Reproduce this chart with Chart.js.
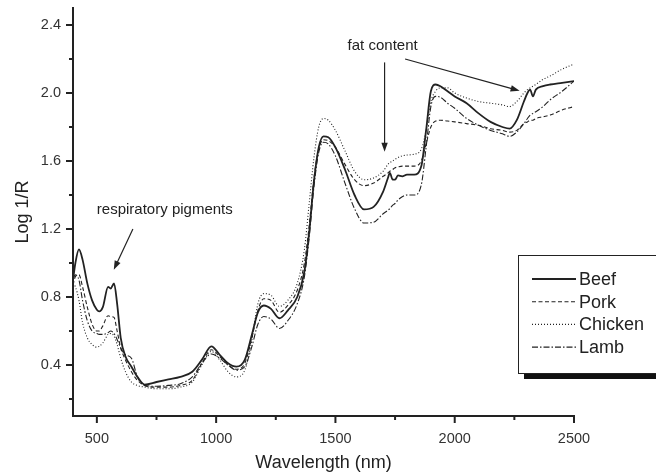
<!DOCTYPE html>
<html>
<head>
<meta charset="utf-8">
<script src="https://cdn.jsdelivr.net/npm/chart.js@4.4.0/dist/chart.umd.min.js"></script>
<style>
  html, body { margin: 0; padding: 0; background: #fff; }
  #wrap { width: 656px; height: 476px; }
</style>
</head>
<body>
<div id="wrap"><canvas id="spectra"></canvas></div>
<script>
// NIR spectra of meat samples, log(1/R) against wavelength
const wavelengths = [400, 410, 425, 440, 460, 480, 500, 510, 525, 547,
  558, 572, 585, 600, 620, 645, 670, 700, 750, 800,
  850, 900, 940, 980, 1015, 1050, 1085, 1120, 1150, 1175,
  1200, 1230, 1265, 1300, 1340, 1370, 1390, 1410, 1430, 1450,
  1470, 1500, 1540, 1580, 1620, 1660, 1700, 1720, 1728, 1740,
  1750, 1762, 1780, 1800, 1830, 1860, 1880, 1900, 1920, 1940,
  1970, 2000, 2050, 2100, 2150, 2200, 2230, 2260, 2290, 2305,
  2316, 2328, 2340, 2370, 2400, 2450, 2500];

const beef = [0.90, 1.00, 1.08, 1.02, 0.88, 0.78, 0.725, 0.715, 0.74, 0.86,
  0.85, 0.88, 0.76, 0.56, 0.45, 0.39, 0.33, 0.285, 0.30, 0.315,
  0.33, 0.36, 0.43, 0.51, 0.46, 0.41, 0.39, 0.43, 0.58, 0.71,
  0.75, 0.73, 0.675, 0.72, 0.80, 0.95, 1.18, 1.48, 1.68, 1.745,
  1.74, 1.68, 1.55, 1.40, 1.315, 1.33, 1.42, 1.50, 1.53, 1.49,
  1.49, 1.515, 1.51, 1.52, 1.52, 1.57, 1.78, 2.01, 2.05, 2.04,
  2.01, 1.98, 1.94, 1.88, 1.83, 1.80, 1.79, 1.84, 1.95, 2.00,
  2.02, 1.98, 2.02, 2.04, 2.05, 2.06, 2.07];

const pork = [0.87, 0.92, 0.93, 0.86, 0.74, 0.64, 0.60, 0.60, 0.63, 0.69,
  0.685, 0.68, 0.60, 0.50, 0.43, 0.36, 0.31, 0.28, 0.27, 0.27,
  0.28, 0.31, 0.41, 0.49, 0.45, 0.40, 0.375, 0.41, 0.56, 0.72,
  0.79, 0.78, 0.71, 0.75, 0.84, 1.00, 1.22, 1.50, 1.67, 1.725,
  1.72, 1.68, 1.58, 1.49, 1.455, 1.47, 1.51, 1.53, 1.54, 1.55,
  1.56, 1.565, 1.57, 1.57, 1.57, 1.60, 1.70, 1.80, 1.835, 1.84,
  1.835, 1.83, 1.82, 1.81, 1.79, 1.78, 1.77, 1.78, 1.82, 1.83,
  1.84, 1.84, 1.85, 1.86, 1.87, 1.90, 1.92];

const chicken = [0.88, 0.86, 0.78, 0.65, 0.56, 0.52, 0.505, 0.51, 0.53, 0.58,
  0.585, 0.57, 0.52, 0.44, 0.36, 0.30, 0.28, 0.27, 0.26, 0.26,
  0.27, 0.30, 0.40, 0.48, 0.43, 0.36, 0.33, 0.37, 0.55, 0.76,
  0.82, 0.81, 0.745, 0.78, 0.88, 1.08, 1.35, 1.62, 1.80, 1.85,
  1.84, 1.78, 1.66, 1.54, 1.49, 1.50, 1.54, 1.58, 1.59, 1.60,
  1.61, 1.62, 1.63, 1.635, 1.64, 1.67, 1.78, 1.95, 2.01, 2.03,
  2.03, 2.00, 1.97, 1.95, 1.94, 1.93, 1.92, 1.95, 2.00, 2.02,
  2.03, 2.04, 2.05, 2.08, 2.10, 2.14, 2.17];

const lamb = [0.91, 0.93, 0.90, 0.78, 0.66, 0.60, 0.585, 0.58, 0.58, 0.59,
  0.60, 0.585, 0.55, 0.50, 0.46, 0.44, 0.33, 0.28, 0.275, 0.28,
  0.29, 0.33, 0.41, 0.465, 0.44, 0.40, 0.37, 0.39, 0.51, 0.64,
  0.685, 0.67, 0.615, 0.66, 0.76, 0.92, 1.15, 1.45, 1.65, 1.71,
  1.70, 1.63, 1.47, 1.32, 1.235, 1.24, 1.29, 1.31, 1.32, 1.34,
  1.35, 1.37, 1.39, 1.40, 1.40, 1.46, 1.68, 1.92, 1.98, 1.975,
  1.94, 1.91, 1.85, 1.81, 1.78, 1.76, 1.745, 1.77, 1.82, 1.85,
  1.87, 1.88, 1.89, 1.92, 1.96, 2.01, 2.07];

const xTicks = [500, 1000, 1500, 2000, 2500];
const xMinor = [750, 1250, 1750, 2250];
const yTicks = [0.4, 0.8, 1.2, 1.6, 2.0, 2.4];
const yMinor = [0.2, 0.6, 1.0, 1.4, 1.8, 2.2];

// callouts, in data units
const notes = [
  { text: 'respiratory pigments', x: 500, y: 1.29 },
  { text: 'fat content', x: 1551, y: 2.255 }
];
const arrows = [
  { from: [651, 1.2], to: [571, 0.96] },
  { from: [1706, 2.18], to: [1706, 1.655] },
  { from: [1792, 2.2], to: [2272, 2.013] }
];

const ink = '#222';
Chart.defaults.font.family = "'Liberation Sans', Arial, sans-serif";
Chart.defaults.color = ink;

const toPoints = vals => wavelengths.map((w, i) => ({ x: w, y: vals[i] }));

function series(label, vals, dash, width) {
  return {
    label: label,
    data: toPoints(vals),
    borderColor: ink,
    borderWidth: width,
    borderDash: dash,
    pointRadius: 0,
    fill: false,
    cubicInterpolationMode: 'monotone'
  };
}

const datasets = [
  series('Beef', beef, [], 1.8),
  series('Pork', pork, [4, 2.5], 1.1),
  series('Chicken', chicken, [1, 2], 1.1),
  series('Lamb', lamb, [6, 2, 1.5, 2], 1.1)
];

function arrow(ctx, x1, y1, x2, y2) {
  const a = Math.atan2(y2 - y1, x2 - x1);
  const len = 9, half = 3.2;
  ctx.beginPath();
  ctx.moveTo(x1, y1);
  ctx.lineTo(x2 - Math.cos(a) * len * 0.8, y2 - Math.sin(a) * len * 0.8);
  ctx.stroke();
  ctx.beginPath();
  ctx.moveTo(x2, y2);
  ctx.lineTo(x2 - Math.cos(a) * len - Math.sin(a) * half, y2 - Math.sin(a) * len + Math.cos(a) * half);
  ctx.lineTo(x2 - Math.cos(a) * len + Math.sin(a) * half, y2 - Math.sin(a) * len - Math.cos(a) * half);
  ctx.closePath();
  ctx.fill();
}

// tick marks, callouts and the boxed legend
const decorations = {
  id: 'decorations',
  afterDraw(chart) {
    const { ctx, chartArea: area, scales: { x, y } } = chart;
    ctx.save();
    ctx.strokeStyle = ink;
    ctx.fillStyle = ink;
    ctx.lineWidth = 2;
    ctx.setLineDash([]);

    const tick = (x1, y1, x2, y2) => {
      ctx.beginPath(); ctx.moveTo(x1, y1); ctx.lineTo(x2, y2); ctx.stroke();
    };
    xTicks.forEach(v => { const p = x.getPixelForValue(v); tick(p, area.bottom, p, area.bottom + 7); });
    xMinor.forEach(v => { const p = x.getPixelForValue(v); tick(p, area.bottom, p, area.bottom + 4); });
    yTicks.forEach(v => { const p = y.getPixelForValue(v); tick(area.left, p, area.left - 7, p); });
    yMinor.forEach(v => { const p = y.getPixelForValue(v); tick(area.left, p, area.left - 4, p); });

    // callouts
    ctx.font = "15px 'Liberation Sans', Arial, sans-serif";
    ctx.textAlign = 'left';
    ctx.textBaseline = 'alphabetic';
    notes.forEach(n => ctx.fillText(n.text, x.getPixelForValue(n.x), y.getPixelForValue(n.y)));
    ctx.lineWidth = 1.2;
    arrows.forEach(a => arrow(ctx,
      x.getPixelForValue(a.from[0]), y.getPixelForValue(a.from[1]),
      x.getPixelForValue(a.to[0]), y.getPixelForValue(a.to[1])));

    // legend box with a drop shadow
    const bx = area.right - 56, by = 255, bh = 118;
    ctx.fillStyle = '#111';
    ctx.fillRect(bx + 6, by + bh, chart.width - bx, 6);
    ctx.fillStyle = '#fff';
    ctx.fillRect(bx, by, chart.width - bx + 2, bh);
    ctx.strokeStyle = ink;
    ctx.lineWidth = 1;
    ctx.strokeRect(bx + 0.5, by + 0.5, chart.width - bx + 4, bh);

    ctx.font = "18px 'Liberation Sans', Arial, sans-serif";
    ctx.textBaseline = 'middle';
    ctx.fillStyle = ink;
    chart.data.datasets.forEach((ds, i) => {
      const ry = by + 24 + i * 22.7;
      ctx.lineWidth = ds.borderWidth;
      ctx.setLineDash(ds.borderDash);
      ctx.beginPath();
      ctx.moveTo(bx + 14, ry);
      ctx.lineTo(bx + 58, ry);
      ctx.stroke();
      ctx.fillText(ds.label, bx + 61, ry + 1);
    });
    ctx.restore();
  }
};

new Chart(document.getElementById('spectra'), {
  type: 'line',
  data: { datasets: datasets },
  options: {
    responsive: true,
    maintainAspectRatio: false,
    animation: false,
    layout: { padding: { top: 8, right: 82, left: 0, bottom: 0 } },
    plugins: { legend: { display: false }, tooltip: { enabled: false } },
    scales: {
      x: {
        type: 'linear',
        min: 400,
        max: 2500,
        afterBuildTicks: axis => { axis.ticks = xTicks.map(v => ({ value: v })); },
        afterFit: axis => { axis.height = 60; axis.paddingLeft = 0; axis.paddingRight = 0; },
        grid: { display: false, drawTicks: false },
        border: { display: true, color: ink, width: 2 },
        ticks: { padding: 14, maxRotation: 0, font: { size: 14.5 }, color: '#333', callback: v => String(v) },
        title: { display: true, text: 'Wavelength (nm)', font: { size: 18 }, padding: { top: 0, bottom: 2 } }
      },
      y: {
        min: 0.1,
        max: 2.5,
        afterBuildTicks: axis => { axis.ticks = yTicks.map(v => ({ value: v })); },
        afterFit: axis => { axis.width = 73; axis.paddingTop = 0; axis.paddingBottom = 0; },
        grid: { display: false, drawTicks: false },
        border: { display: true, color: ink, width: 2 },
        ticks: { padding: 12, font: { size: 14.5 }, color: '#333', callback: v => v.toFixed(1) },
        title: { display: true, text: 'Log 1/R', font: { size: 18 }, padding: { top: 12, bottom: 0 } }
      }
    }
  },
  plugins: [decorations]
});
</script>
</body>
</html>
